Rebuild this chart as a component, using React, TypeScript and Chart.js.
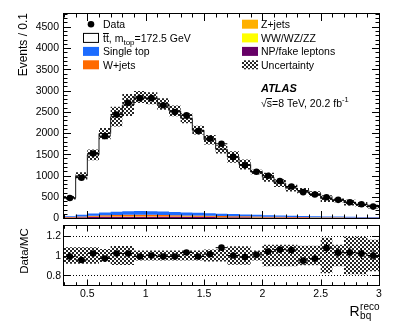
import React, { useEffect, useRef } from "react";
import { Chart, registerables } from "chart.js";

Chart.register(...registerables);

// ---------------- data ----------------
const binCenters = [0.35, 0.45, 0.55, 0.65, 0.75, 0.85, 0.95, 1.05, 1.15, 1.25, 1.35, 1.45, 1.55, 1.65, 1.75, 1.85, 1.95, 2.05, 2.15, 2.25, 2.35, 2.45, 2.55, 2.65, 2.75, 2.85, 2.95];
const binHalfWidth = 0.05;
const dataEvents = [470, 948, 1517, 1927, 2433, 2710, 2820, 2820, 2654, 2495, 2417, 2045, 1865, 1746, 1438, 1240, 1090, 995, 869, 742, 608, 553, 490, 427, 372, 324, 268];
const ttbarEvents = [434, 915, 1380, 1858, 2239, 2501, 2686, 2660, 2530, 2379, 2216, 1945, 1729, 1515, 1345, 1175, 1009, 891, 761, 651, 596, 528, 418, 381, 331, 292, 245];
const singleTopEvents = [20, 40, 55, 65, 75, 80, 85, 85, 80, 75, 70, 65, 60, 55, 50, 45, 40, 36, 32, 28, 25, 22, 20, 18, 16, 14, 12];
const wJetsEvents = [8, 15, 22, 28, 32, 35, 36, 35, 33, 30, 28, 26, 24, 22, 20, 18, 16, 14, 12, 11, 10, 9, 8, 7, 6, 5, 5];
const zJetsEvents = [2, 4, 5, 6, 7, 7, 7, 7, 6, 6, 5, 5, 5, 4, 4, 4, 3, 3, 3, 2, 2, 2, 2, 2, 2, 1, 1];
const dibosonEvents = [1, 1, 1, 2, 2, 2, 2, 2, 2, 2, 2, 1, 1, 1, 1, 1, 1, 1, 1, 1, 1, 1, 1, 1, 1, 1, 1];
const npFakeEvents = [10, 18, 24, 28, 30, 32, 32, 31, 30, 28, 26, 24, 22, 20, 18, 16, 14, 12, 11, 10, 9, 8, 7, 6, 5, 5, 4];
const relUncertainty = [0.085, 0.085, 0.085, 0.066, 0.097, 0.097, 0.05, 0.05, 0.05, 0.05, 0.05, 0.05, 0.06, 0.06, 0.094, 0.094, 0.05, 0.11, 0.11, 0.11, 0.1, 0.1, 0.18, 0.11, 0.19, 0.19, 0.16];

const mainYTickLabels = [0, 500, 1000, 1500, 2000, 2500, 3000, 3500, 4000, 4500];
const ratioYTickLabels = ["0.8", "1", "1.2"];
const xTickLabels = ["0.5", "1", "1.5", "2", "2.5", "3"];

const X_MIN = 0.3;
const X_MAX = 3.0;
const MAIN_Y_MAX = 4800;
const RATIO_MIN = 0.7;
const RATIO_MAX = 1.3;

const FONT = '"Liberation Sans", Arial, Helvetica, sans-serif';
const COL_SINGLETOP = "#1c6cff";
const COL_WJETS = "#ff6a00";
const COL_ZJETS = "#ffb000";
const COL_VV = "#ffff00";
const COL_NP = "#660066";

// ---------------- helpers ----------------
function stepPoints(values: number[]) {
  const pts = binCenters.map((c, i) => ({ x: +(c - binHalfWidth).toFixed(3), y: values[i] }));
  pts.push({ x: +(binCenters[binCenters.length - 1] + binHalfWidth).toFixed(3), y: values[values.length - 1] });
  return pts;
}

function addArr(a: number[], b: number[]) {
  return a.map((v, i) => v + b[i]);
}

function errorBarPoints(ys: number[], errs: number[]) {
  const pts: { x: number; y: number | null }[] = [];
  binCenters.forEach((c, i) => {
    pts.push({ x: c - binHalfWidth, y: ys[i] }, { x: c + binHalfWidth, y: ys[i] }, { x: c, y: null });
    pts.push({ x: c, y: ys[i] - errs[i] }, { x: c, y: ys[i] + errs[i] }, { x: c, y: null });
  });
  return pts;
}

function makePattern(ctx: CanvasRenderingContext2D) {
  const c = document.createElement("canvas");
  c.width = 4;
  c.height = 4;
  const g = c.getContext("2d")!;
  g.fillStyle = "rgba(0,0,0,0.85)";
  g.fillRect(0, 0, 2, 2);
  g.fillRect(2, 2, 2, 2);
  return ctx.createPattern(c, "repeat")!;
}

function range(a: number, b: number, step: number) {
  const out: number[] = [];
  const n = Math.round((b - a) / step);
  for (let i = 0; i <= n; i++) out.push(+(a + i * step).toFixed(4));
  return out;
}

type TickCfg = {
  yMajor: number[];
  yMinor: number[];
  yMajorLen: number;
  yMinorLen: number;
  xMajor: number[];
  xMinor: number[];
  xMajorLen: number;
  xMinorLen: number;
};

function drawFrameAndTicks(chart: any, cfg: TickCfg) {
  const { ctx, chartArea } = chart;
  const { left, right, top, bottom } = chartArea;
  const xs = chart.scales.x;
  const ys = chart.scales.y;
  ctx.save();
  ctx.strokeStyle = "#000";
  ctx.lineWidth = 1;
  ctx.setLineDash([]);
  ctx.beginPath();
  const yt = (vals: number[], len: number) => {
    for (const v of vals) {
      const p = Math.round(ys.getPixelForValue(v)) + 0.5;
      ctx.moveTo(left, p);
      ctx.lineTo(left + len, p);
      ctx.moveTo(right, p);
      ctx.lineTo(right - len, p);
    }
  };
  const xt = (vals: number[], len: number) => {
    for (const v of vals) {
      const p = Math.round(xs.getPixelForValue(v)) + 0.5;
      ctx.moveTo(p, bottom);
      ctx.lineTo(p, bottom - len);
      ctx.moveTo(p, top);
      ctx.lineTo(p, top + len);
    }
  };
  yt(cfg.yMajor, cfg.yMajorLen);
  yt(cfg.yMinor, cfg.yMinorLen);
  xt(cfg.xMajor, cfg.xMajorLen);
  xt(cfg.xMinor, cfg.xMinorLen);
  ctx.stroke();
  ctx.strokeRect(left - 0.5, top - 0.5, right - left + 1, bottom - top + 1);
  ctx.restore();
}

function drawRuns(ctx: CanvasRenderingContext2D, x: number, y: number, runs: { t: string; size: number; dy?: number; style?: string }[]) {
  let cx = x;
  for (const r of runs) {
    ctx.font = `${r.style || ""} ${r.size}px ${FONT}`;
    ctx.fillText(r.t, cx, y + (r.dy || 0));
    cx += ctx.measureText(r.t).width;
  }
  return cx;
}

// ---------------- component ----------------
export default function App() {
  const mainRef = useRef<HTMLCanvasElement>(null);
  const ratioRef = useRef<HTMLCanvasElement>(null);

  useEffect(() => {
    const mainCanvas = mainRef.current!;
    const ratioCanvas = ratioRef.current!;
    const mctx = mainCanvas.getContext("2d")!;
    const rctx = ratioCanvas.getContext("2d")!;
    const patMain = makePattern(mctx);
    const patRatio = makePattern(rctx);

    const c1 = npFakeEvents;
    const c2 = addArr(c1, dibosonEvents);
    const c3 = addArr(c2, zJetsEvents);
    const c4 = addArr(c3, wJetsEvents);
    const c5 = addArr(c4, singleTopEvents);
    const total = addArr(c5, ttbarEvents);
    const upper = total.map((v, i) => v * (1 + relUncertainty[i]));
    const lower = total.map((v, i) => v * (1 - relUncertainty[i]));
    const dataErr = dataEvents.map((v) => Math.sqrt(v));
    const ratio = dataEvents.map((v, i) => v / total[i]);
    const ratioErr = dataEvents.map((v, i) => Math.sqrt(v) / total[i]);
    const rUpper = relUncertainty.map((u) => 1 + u);
    const rLower = relUncertainty.map((u) => 1 - u);

    const fillDs = (vals: number[], color: any, fill: any, order: number) => ({
      data: stepPoints(vals),
      stepped: true,
      borderWidth: 0,
      borderColor: "rgba(0,0,0,0)",
      backgroundColor: color,
      fill,
      pointRadius: 0,
      order,
    });

    const baseOptions = (padTop: number, padBottom: number, ymin: number, ymax: number, plugin: any) => ({
      responsive: false,
      animation: false as const,
      devicePixelRatio: 1,
      events: [],
      layout: { padding: { left: 64, right: 20, top: padTop, bottom: padBottom } },
      plugins: { legend: { display: false }, tooltip: { enabled: false }, title: { display: false } },
      scales: {
        x: { type: "linear" as const, min: X_MIN, max: X_MAX, display: false },
        y: { type: "linear" as const, min: ymin, max: ymax, display: false },
      },
    });

    const xMajor = range(0.5, 3.0, 0.5);
    const xMinor = range(0.3, 3.0, 0.1).filter((v) => Math.abs(v * 2 - Math.round(v * 2)) > 1e-6);

    const mainPlugin = {
      id: "mainDecor",
      afterDraw(chart: any) {
        const { ctx, chartArea } = chart;
        drawFrameAndTicks(chart, {
          yMajor: mainYTickLabels,
          yMinor: range(0, 4800, 100).filter((v) => v % 500 !== 0),
          yMajorLen: 7,
          yMinorLen: 3.5,
          xMajor,
          xMinor,
          xMajorLen: 7,
          xMinorLen: 3.5,
        });
        const ys = chart.scales.y;
        ctx.save();
        ctx.fillStyle = "#000";
        ctx.font = `10.5px ${FONT}`;
        ctx.textAlign = "right";
        ctx.textBaseline = "middle";
        for (const v of mainYTickLabels) {
          ctx.fillText(String(v), chartArea.left - 5, ys.getPixelForValue(v) + 0.5);
        }
        // y title
        ctx.save();
        ctx.translate(24, 13);
        ctx.rotate(-Math.PI / 2);
        ctx.font = `12px ${FONT}`;
        ctx.textAlign = "right";
        ctx.textBaseline = "middle";
        ctx.fillText("Events / 0.1", 0, 0);
        ctx.restore();

        // legend
        ctx.textAlign = "left";
        ctx.textBaseline = "alphabetic";
        const rows = [24.2, 37.9, 51.4, 64.8];
        const base = (r: number) => rows[r] + 3.8;
        // Data
        ctx.beginPath();
        ctx.arc(91, rows[0], 3.3, 0, Math.PI * 2);
        ctx.fill();
        ctx.font = `10.5px ${FONT}`;
        ctx.fillText("Data", 103, base(0));
        // ttbar
        ctx.fillStyle = "#fff";
        ctx.fillRect(83.5, rows[1] - 4.5, 15, 9);
        ctx.strokeStyle = "#000";
        ctx.lineWidth = 1;
        ctx.strokeRect(83.5, rows[1] - 4.5, 15, 9);
        ctx.fillStyle = "#000";
        ctx.font = `10.5px ${FONT}`;
        const ttW = ctx.measureText("tt").width;
        ctx.beginPath();
        ctx.moveTo(103, Math.round(base(1) - 9) + 0.5);
        ctx.lineTo(103 + ttW, Math.round(base(1) - 9) + 0.5);
        ctx.stroke();
        drawRuns(ctx, 103, base(1), [
          { t: "tt", size: 10.5 },
          { t: ", m", size: 10.5 },
          { t: "top", size: 8, dy: 3 },
          { t: "=172.5 GeV", size: 10.5 },
        ]);
        // single top
        ctx.fillStyle = COL_SINGLETOP;
        ctx.fillRect(83, rows[2] - 4.5, 16, 9);
        ctx.fillStyle = "#000";
        ctx.font = `10.5px ${FONT}`;
        ctx.fillText("Single top", 103, base(2));
        // W+jets
        ctx.fillStyle = COL_WJETS;
        ctx.fillRect(83, rows[3] - 4.5, 16, 9);
        ctx.fillStyle = "#000";
        ctx.fillText("W+jets", 103, base(3));

        // right column
        const bx = 242;
        const tx = 261;
        ctx.fillStyle = COL_ZJETS;
        ctx.fillRect(bx, rows[0] - 4.5, 16, 9);
        ctx.fillStyle = COL_VV;
        ctx.fillRect(bx, rows[1] - 4.5, 16, 9);
        ctx.fillStyle = COL_NP;
        ctx.fillRect(bx, rows[2] - 4.5, 16, 9);
        ctx.fillStyle = patMain;
        ctx.fillRect(bx, rows[3] - 4.5, 16, 9);
        ctx.fillStyle = "#000";
        ctx.fillText("Z+jets", tx, base(0));
        ctx.fillText("WW/WZ/ZZ", tx, base(1));
        ctx.fillText("NP/fake leptons", tx, base(2));
        ctx.fillText("Uncertainty", tx, base(3));

        // ATLAS label
        ctx.font = `italic bold 11px ${FONT}`;
        ctx.fillText("ATLAS", 261, 91.5);
        ctx.font = `10.5px ${FONT}`;
        const sqrtW = ctx.measureText("\u221A").width;
        const sW = ctx.measureText("s").width;
        const bl = 106.8;
        ctx.beginPath();
        ctx.moveTo(261 + sqrtW - 0.5, Math.round(bl - 9) + 0.5);
        ctx.lineTo(261 + sqrtW + sW, Math.round(bl - 9) + 0.5);
        ctx.stroke();
        drawRuns(ctx, 261, bl, [
          { t: "\u221As=8 TeV, 20.2 fb", size: 10.5 },
          { t: "-1", size: 7.5, dy: -4.5 },
        ]);
        ctx.restore();
      },
    };

    const ratioPlugin = {
      id: "ratioDecor",
      beforeDatasetsDraw(chart: any) {
        const { ctx, chartArea } = chart;
        const ys = chart.scales.y;
        ctx.save();
        ctx.strokeStyle = "#000";
        ctx.lineWidth = 1;
        ctx.setLineDash([1, 2]);
        ctx.beginPath();
        for (const v of [0.8, 1.2]) {
          const p = Math.round(ys.getPixelForValue(v)) + 0.5;
          ctx.moveTo(chartArea.left, p);
          ctx.lineTo(chartArea.right, p);
        }
        ctx.stroke();
        ctx.restore();
      },
      afterDraw(chart: any) {
        const { ctx, chartArea } = chart;
        const xs = chart.scales.x;
        const ys = chart.scales.y;
        drawFrameAndTicks(chart, {
          yMajor: ratioYTickLabels.map(Number),
          yMinor: [],
          yMajorLen: 7,
          yMinorLen: 3.5,
          xMajor,
          xMinor,
          xMajorLen: 5.5,
          xMinorLen: 2.8,
        });
        ctx.save();
        ctx.fillStyle = "#000";
        ctx.font = `10.5px ${FONT}`;
        ctx.textAlign = "right";
        ctx.textBaseline = "middle";
        for (const t of ratioYTickLabels) {
          ctx.fillText(t, chartArea.left - 3, ys.getPixelForValue(Number(t)) + 0.5);
        }
        ctx.textAlign = "center";
        for (const t of xTickLabels) {
          ctx.fillText(t, xs.getPixelForValue(Number(t)), 294.5);
        }
        // y title
        ctx.save();
        ctx.translate(25, 251);
        ctx.rotate(-Math.PI / 2);
        ctx.font = `11.5px ${FONT}`;
        ctx.textAlign = "center";
        ctx.textBaseline = "middle";
        ctx.fillText("Data/MC", 0, 0);
        ctx.restore();
        // x title R_bq^reco
        ctx.textAlign = "left";
        ctx.textBaseline = "alphabetic";
        ctx.font = `14px ${FONT}`;
        ctx.fillText("R", 349.5, 315.5);
        const rW = ctx.measureText("R").width;
        ctx.font = `10px ${FONT}`;
        ctx.fillText("reco", 349.5 + rW + 0.5, 310);
        ctx.fillText("bq", 349.5 + rW + 0.5, 318.5);
        ctx.restore();
      },
    };

    const mainChart = new Chart(mctx, {
      type: "line",
      data: {
        datasets: [
          fillDs(c1, COL_NP, "origin", 19),
          fillDs(c2, COL_VV, "-1", 18),
          fillDs(c3, COL_ZJETS, "-1", 17),
          fillDs(c4, COL_WJETS, "-1", 16),
          fillDs(c5, COL_SINGLETOP, "-1", 15),
          {
            data: stepPoints(total),
            stepped: true,
            borderWidth: 1,
            borderColor: "#1a1a1a",
            fill: false,
            pointRadius: 0,
            order: 10,
          },
          fillDs(upper, "rgba(0,0,0,0)", false, 9),
          fillDs(lower, patMain, "-1", 8),
          {
            data: errorBarPoints(dataEvents, dataErr),
            borderWidth: 1,
            borderColor: "#000",
            fill: false,
            pointRadius: 0,
            spanGaps: false,
            order: 2,
          },
          {
            data: binCenters.map((c, i) => ({ x: c, y: dataEvents[i] })),
            showLine: false,
            pointRadius: 3.3,
            pointBackgroundColor: "#000",
            pointBorderWidth: 0,
            borderColor: "#000",
            order: 1,
          },
        ] as any,
      },
      options: baseOptions(14, 328 - 218, 0, MAIN_Y_MAX, mainPlugin) as any,
      plugins: [mainPlugin],
    });

    const ratioChart = new Chart(rctx, {
      type: "line",
      data: {
        datasets: [
          fillDs(rUpper, "rgba(0,0,0,0)", false, 9),
          fillDs(rLower, patRatio, "-1", 8),
          {
            data: errorBarPoints(ratio, ratioErr),
            borderWidth: 1,
            borderColor: "#000",
            fill: false,
            pointRadius: 0,
            spanGaps: false,
            order: 2,
          },
          {
            data: binCenters.map((c, i) => ({ x: c, y: ratio[i] })),
            showLine: false,
            pointRadius: 3.3,
            pointBackgroundColor: "#000",
            pointBorderWidth: 0,
            borderColor: "#000",
            order: 1,
          },
        ] as any,
      },
      options: baseOptions(226, 328 - 285, RATIO_MIN, RATIO_MAX, ratioPlugin) as any,
      plugins: [ratioPlugin],
    });

    return () => {
      mainChart.destroy();
      ratioChart.destroy();
    };
  }, []);

  const cstyle: React.CSSProperties = { position: "absolute", left: 0, top: 0, width: 399, height: 328 };
  return (
    <div style={{ position: "fixed", left: 0, top: 0, width: 399, height: 328, background: "#fff" }}>
      <canvas ref={mainRef} width={399} height={328} style={cstyle} />
      <canvas ref={ratioRef} width={399} height={328} style={cstyle} />
    </div>
  );
}
